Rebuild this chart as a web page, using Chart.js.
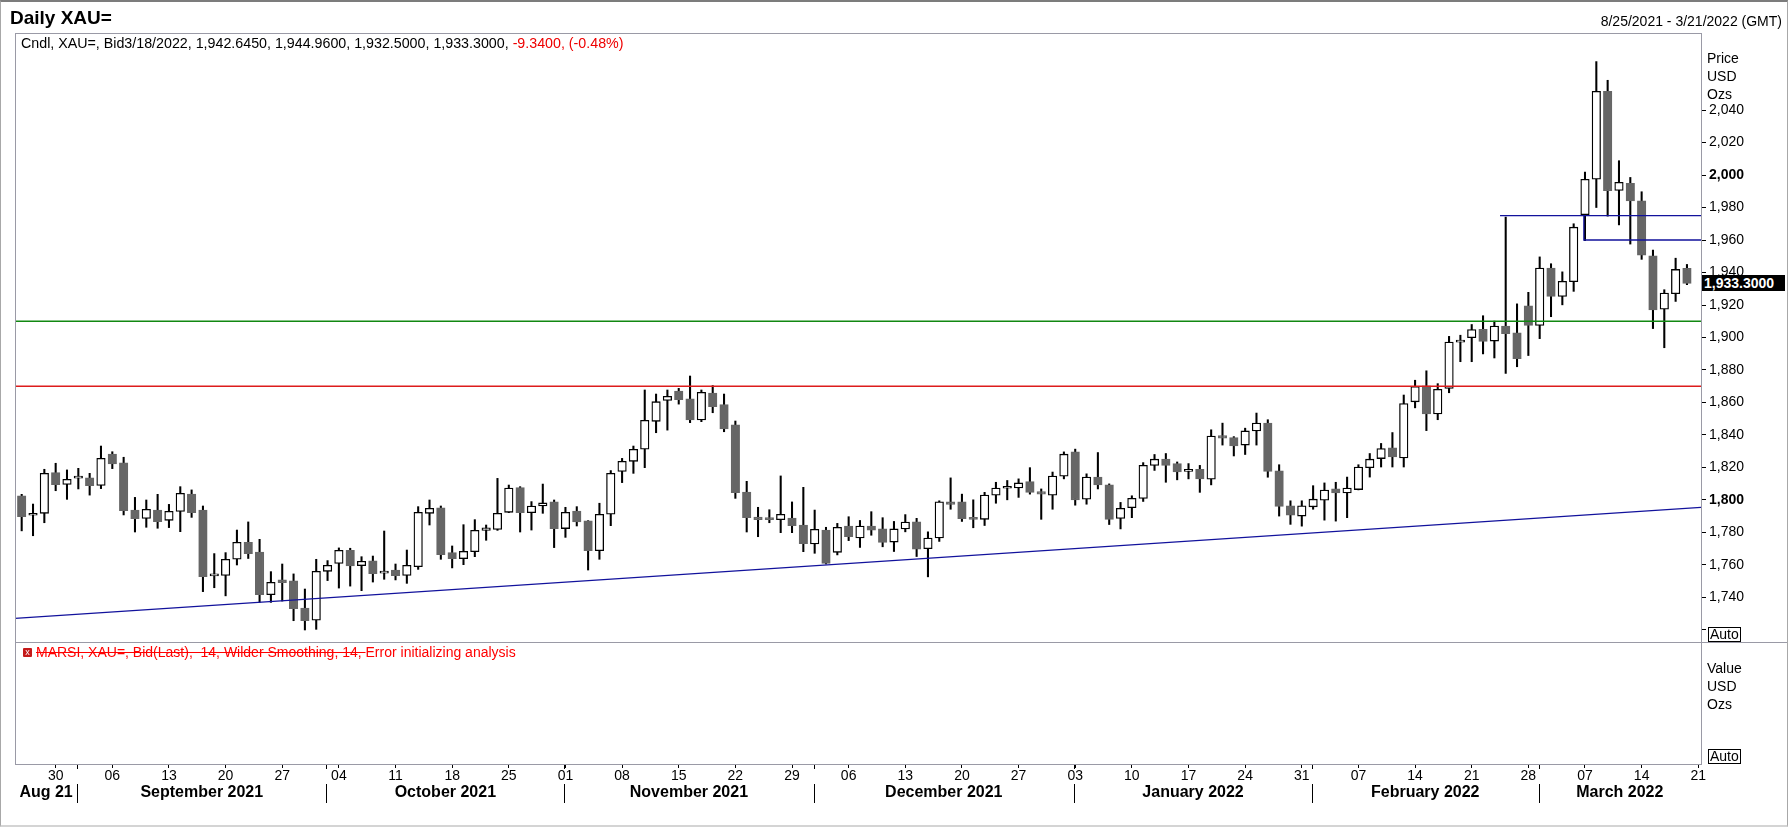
<!DOCTYPE html>
<html lang="en">
<head>
<meta charset="UTF-8">
<title>Daily XAU=</title>
<script src="https://cdn.jsdelivr.net/npm/chart.js"></script>
<style>
  body { margin: 0; background: #fff; font-family: "Liberation Sans", Arial, sans-serif; overflow: hidden; }
  #wrap { position: relative; width: 1788px; height: 827px; }
  canvas { position: absolute; left: 0; top: 0; }
  .t { position: absolute; font-size: 14px; line-height: 16px; white-space: nowrap; color: #000; z-index: 3; }
  .ln { position: absolute; background: #9a9aa6; z-index: 2; }
  .auto { border: 1px solid #000; padding: 0 1px; line-height: 13px; background: #fff; }
</style>
</head>
<body>
<div id="wrap">
  <div style="position:absolute;left:0;top:0;width:1786px;height:823px;border:1px solid #a8a8a8;border-top:2px solid #7c7c7c;border-bottom:2px solid #d4d4d4;"></div>

  <canvas id="priceChart" width="1788" height="827"></canvas>
  <canvas id="lowerChart" width="1788" height="827"></canvas>

  <!-- panel frames -->
  <div class="ln" style="left:15px;top:33px;width:1687px;height:1px;"></div>
  <div class="ln" style="left:15px;top:33px;width:1px;height:732px;"></div>
  <div class="ln" style="left:1701px;top:33px;width:1px;height:732px;"></div>
  <div class="ln" style="left:15px;top:642px;width:1772px;height:1px;"></div>
  <div class="ln" style="left:15px;top:764px;width:1687px;height:1px;"></div>

  <div class="t" style="left:10px;top:6px;font-size:19px;line-height:24px;font-weight:bold;">Daily XAU=</div>
  <div class="t" style="right:6px;top:13px;">8/25/2021 - 3/21/2022 (GMT)</div>
  <div class="t" style="left:21px;top:35px;font-size:14.25px;">Cndl, XAU=, Bid3/18/2022, 1,942.6450, 1,944.9600, 1,932.5000, 1,933.3000, <span style="color:#ee0000">-9.3400, (-0.48%)</span></div>

  <div class="t" style="left:1707px;top:50px;">Price</div>
  <div class="t" style="left:1707px;top:68px;">USD</div>
  <div class="t" style="left:1707px;top:86px;">Ozs</div>
  <div class="t auto" style="left:1708px;top:627px;">Auto</div>

  <div class="t" style="left:1707px;top:660px;">Value</div>
  <div class="t" style="left:1707px;top:678px;">USD</div>
  <div class="t" style="left:1707px;top:696px;">Ozs</div>
  <div class="t auto" style="left:1708px;top:749px;">Auto</div>

  <div class="t" style="left:23px;top:648px;width:9px;height:9px;background:#c41a1a;border-radius:1px;color:#fff;font-size:9px;line-height:9px;text-align:center;">x</div>
  <div class="t" style="left:36px;top:644px;color:#ff0000;"><span style="text-decoration:line-through;">MARSI, XAU=, Bid(Last),&nbsp; 14, Wilder Smoothing, 14, </span>Error initializing analysis</div>

  <div id="lastTag" class="t" style="left:1702px;top:276px;width:81px;height:16px;padding-left:2px;background:#000;color:#fff;font-weight:bold;">1,933.3000</div>
</div>

<script>
// trading days on the time axis (last one is the axis end, no candle)
const days = [
  '2021-08-25','2021-08-26','2021-08-27','2021-08-30','2021-08-31',
  '2021-09-01','2021-09-02','2021-09-03','2021-09-06','2021-09-07','2021-09-08','2021-09-09','2021-09-10','2021-09-13','2021-09-14','2021-09-15','2021-09-16','2021-09-17','2021-09-20','2021-09-21','2021-09-22','2021-09-23','2021-09-24','2021-09-27','2021-09-28','2021-09-29','2021-09-30',
  '2021-10-01','2021-10-04','2021-10-05','2021-10-06','2021-10-07','2021-10-08','2021-10-11','2021-10-12','2021-10-13','2021-10-14','2021-10-15','2021-10-18','2021-10-19','2021-10-20','2021-10-21','2021-10-22','2021-10-25','2021-10-26','2021-10-27','2021-10-28','2021-10-29',
  '2021-11-01','2021-11-02','2021-11-03','2021-11-04','2021-11-05','2021-11-08','2021-11-09','2021-11-10','2021-11-11','2021-11-12','2021-11-15','2021-11-16','2021-11-17','2021-11-18','2021-11-19','2021-11-22','2021-11-23','2021-11-24','2021-11-25','2021-11-26','2021-11-29','2021-11-30',
  '2021-12-01','2021-12-02','2021-12-03','2021-12-06','2021-12-07','2021-12-08','2021-12-09','2021-12-10','2021-12-13','2021-12-14','2021-12-15','2021-12-16','2021-12-17','2021-12-20','2021-12-21','2021-12-22','2021-12-23','2021-12-24','2021-12-27','2021-12-28','2021-12-29','2021-12-30','2021-12-31',
  '2022-01-03','2022-01-04','2022-01-05','2022-01-06','2022-01-07','2022-01-10','2022-01-11','2022-01-12','2022-01-13','2022-01-14','2022-01-17','2022-01-18','2022-01-19','2022-01-20','2022-01-21','2022-01-24','2022-01-25','2022-01-26','2022-01-27','2022-01-28','2022-01-31',
  '2022-02-01','2022-02-02','2022-02-03','2022-02-04','2022-02-07','2022-02-08','2022-02-09','2022-02-10','2022-02-11','2022-02-14','2022-02-15','2022-02-16','2022-02-17','2022-02-18','2022-02-21','2022-02-22','2022-02-23','2022-02-24','2022-02-25','2022-02-28',
  '2022-03-01','2022-03-02','2022-03-03','2022-03-04','2022-03-07','2022-03-08','2022-03-09','2022-03-10','2022-03-11','2022-03-14','2022-03-15','2022-03-16','2022-03-17','2022-03-18','2022-03-21'
];

const open = [
  1802.5,1790.6,1791.8,1816.8,1809.6,1813.5,1813.7,1809.0,1828.3,1822.8,
  1793.8,1788.7,1793.8,1787.5,1793.0,1803.7,1793.8,1753.3,1753.6,1763.5,
  1774.0,1768.0,1741.7,1750.8,1750.2,1733.5,1726.0,1756.1,1761.0,1769.0,
  1759.6,1762.5,1754.9,1756.9,1753.6,1759.0,1791.8,1795.1,1767.6,1763.9,
  1768.2,1781.3,1781.9,1792.4,1807.6,1792.2,1796.3,1798.8,1782.4,1793.2,
  1787.1,1768.8,1791.2,1817.6,1823.8,1831.2,1848.4,1861.3,1867.1,1862.2,
  1849.2,1865.8,1858.7,1846.2,1804.9,1789.5,1788.9,1787.9,1788.9,1784.6,
  1772.9,1781.5,1767.8,1784.0,1776.6,1783.9,1782.2,1774.1,1782.2,1786.6,
  1770.0,1776.6,1798.9,1798.9,1789.1,1788.1,1803.0,1807.2,1807.4,1811.3,
  1805.1,1803.0,1814.7,1829.6,1800.5,1814.1,1809.3,1788.7,1795.3,1801.0,
  1821.3,1825.1,1822.4,1817.6,1818.8,1812.8,1839.6,1838.4,1833.8,1842.5,
  1847.3,1818.0,1796.4,1790.1,1795.8,1799.9,1806.8,1804.3,1806.4,1819.9,
  1825.5,1832.1,1825.9,1860.4,1870.2,1852.9,1868.7,1897.2,1899.9,1905.1,
  1897.8,1907.0,1902.8,1919.5,1907.4,1942.7,1925.3,1934.4,1975.6,1997.4,
  2051.5,1990.5,1994.9,1984.1,1950.2,1917.4,1926.9,1942.645
];
const high = [
  1803.5,1797.5,1818.9,1822.6,1818.5,1819.5,1816.4,1833.2,1829.7,1826.3,
  1801.6,1800.0,1803.5,1797.3,1808.2,1806.2,1796.3,1767.0,1767.6,1781.5,
  1786.5,1775.8,1755.9,1760.6,1754.5,1745.2,1763.5,1762.7,1770.5,1770.3,
  1765.1,1765.5,1780.9,1760.6,1769.2,1795.9,1800.0,1796.3,1771.7,1784.8,
  1787.9,1784.6,1813.3,1809.2,1808.2,1799.0,1809.8,1800.0,1795.5,1795.9,
  1787.3,1798.0,1818.1,1825.6,1833.2,1867.7,1865.2,1867.7,1868.7,1876.3,
  1867.7,1870.4,1865.2,1848.6,1811.5,1795.5,1794.0,1814.8,1798.8,1807.8,
  1793.8,1783.2,1785.6,1789.7,1787.4,1792.8,1789.1,1786.8,1791.0,1788.7,
  1780.4,1799.5,1813.6,1803.6,1800.1,1804.7,1810.9,1812.0,1813.0,1819.9,
  1806.8,1817.2,1829.6,1831.3,1816.1,1829.2,1809.9,1798.5,1802.6,1823.0,
  1828.0,1828.6,1823.4,1822.4,1821.3,1843.2,1847.3,1839.0,1844.2,1853.5,
  1849.4,1821.7,1799.5,1799.5,1808.8,1810.5,1810.9,1814.1,1821.7,1828.6,
  1834.8,1841.5,1864.6,1873.7,1879.5,1871.6,1900.7,1901.4,1908.0,1913.4,
  1910.1,1974.1,1920.7,1927.8,1949.6,1945.4,1940.4,1970.0,2001.8,2069.8,
  2058.3,2008.8,1998.5,1989.7,1953.8,1929.4,1948.8,1944.96
];
const low = [
  1781.0,1778.0,1786.0,1805.7,1800.4,1806.8,1803.0,1807.0,1819.3,1790.8,
  1780.3,1783.2,1782.6,1783.0,1780.5,1789.3,1743.6,1746.0,1741.0,1760.0,
  1764.0,1737.0,1737.0,1737.8,1725.7,1720.0,1720.4,1750.4,1745.8,1747.0,
  1744.2,1749.5,1751.2,1750.8,1748.7,1757.3,1784.6,1763.5,1758.2,1760.2,
  1765.1,1775.2,1781.3,1792.2,1780.3,1781.5,1791.8,1770.7,1777.0,1784.0,
  1756.9,1763.5,1784.2,1810.7,1816.4,1819.9,1841.4,1843.0,1859.0,1847.6,
  1848.2,1853.7,1842.0,1801.0,1780.3,1777.4,1786.0,1779.9,1779.9,1768.2,
  1767.2,1760.6,1766.2,1775.0,1770.8,1778.3,1771.2,1768.3,1780.4,1765.2,
  1752.7,1774.5,1794.3,1786.8,1782.9,1784.3,1798.0,1800.1,1801.6,1803.6,
  1788.1,1794.3,1813.0,1796.8,1797.4,1806.8,1784.9,1782.2,1789.1,1799.1,
  1818.2,1810.9,1812.4,1813.0,1804.7,1809.3,1833.8,1827.1,1828.0,1833.8,
  1814.0,1790.1,1785.0,1783.9,1794.3,1787.6,1787.0,1789.1,1806.2,1814.1,
  1820.3,1820.3,1820.3,1856.7,1842.7,1849.4,1866.0,1885.1,1885.1,1889.9,
  1887.4,1877.9,1882.0,1888.9,1899.3,1912.8,1920.1,1928.4,1959.6,1980.0,
  1974.7,1969.3,1957.5,1948.1,1905.5,1893.7,1922.2,1932.5
];
const close = [
  1789.7,1791.8,1816.4,1809.4,1812.7,1814.2,1808.8,1825.6,1822.2,1793.4,
  1788.5,1794.3,1786.7,1793.0,1804.1,1792.2,1752.8,1754.1,1763.5,1774.0,
  1767.0,1741.7,1749.3,1749.1,1733.1,1725.7,1756.1,1759.8,1769.0,1759.4,
  1762.3,1754.7,1756.3,1753.4,1759.8,1792.4,1794.9,1766.4,1763.9,1768.4,
  1781.3,1782.8,1791.8,1807.4,1792.2,1796.3,1798.2,1782.4,1792.4,1786.5,
  1768.8,1791.2,1816.4,1823.8,1831.2,1849.0,1860.5,1863.8,1861.7,1849.2,
  1866.3,1857.4,1843.7,1804.5,1789.1,1787.9,1787.9,1791.2,1784.2,1773.1,
  1781.9,1761.0,1783.2,1777.4,1783.9,1781.4,1773.9,1782.2,1786.4,1769.7,
  1776.6,1798.9,1797.2,1788.5,1788.1,1803.0,1807.4,1807.9,1810.5,1804.7,
  1803.6,1814.7,1828.2,1800.1,1814.1,1809.3,1788.1,1794.9,1801.0,1821.3,
  1825.1,1821.3,1817.2,1818.3,1813.0,1839.4,1838.0,1833.2,1842.5,1847.3,
  1817.6,1796.0,1790.6,1796.4,1800.5,1806.1,1804.3,1807.4,1820.3,1825.1,
  1831.7,1826.5,1859.4,1869.9,1852.9,1868.1,1897.2,1897.6,1904.9,1897.6,
  1907.0,1902.4,1887.0,1907.4,1942.7,1925.3,1934.6,1967.9,1997.4,2051.5,
  1990.3,1995.5,1984.1,1950.6,1917.0,1927.3,1941.9,1933.3
];

// drawn lines (price levels and trend), x in trading-day index
const greenLevel = 1910;
const redLevel = 1870;
const trendX = [-0.59, 148.24];
const trendY = [1727.2, 1795.5];
const blueTopX = [130.5, 148.24];
const blueTopY = [1975, 1975];
const blueStepX = [137.9, 137.9, 148.24];
const blueStepY = [1975, 1960, 1960];

// axes
const xMin = -0.59, xMax = 148.24;
const yMin = 1712.6, yMax = 2087.4;
const priceTicks = [1720,1740,1760,1780,1800,1820,1840,1860,1880,1900,1920,1940,1960,1980,2000,2020,2040];
const boldTicks = [1800, 2000];
const months = ['Aug 21','September 2021','October 2021','November 2021','December 2021','January 2022','February 2022','March 2022'];

const FONT = '"Liberation Sans", Arial, sans-serif';
Chart.defaults.font.family = FONT;
Chart.defaults.color = '#000';

// derived positions on the day axis
const mondays = [];
const monthStarts = [];
days.forEach((d, i) => {
  if (new Date(d + 'T00:00:00Z').getUTCDay() === 1) mondays.push(i);
  if (i > 0 && d.slice(5, 7) !== days[i - 1].slice(5, 7)) monthStarts.push(i);
});
const bounds = [xMin].concat(monthStarts.map(i => i - 0.1), [xMax]);
const monthCenters = months.map((m, k) => (bounds[k] + bounds[k + 1]) / 2);

const candles = open.map((o, i) => ({ x: i, o: o, h: high[i], l: low[i], c: close[i] }));
const up = candles.map(k => k.c >= k.o);

const pts = (xs, ys) => xs.map((x, i) => ({ x: x, y: ys[i] }));

const priceChart = new Chart(document.getElementById('priceChart'), {
  type: 'bar',
  data: {
    datasets: [
      { type: 'line', data: pts([xMin, xMax], [greenLevel, greenLevel]), borderColor: '#118811', borderWidth: 1.3, pointRadius: 0, order: 0 },
      { type: 'line', data: pts([xMin, xMax], [redLevel, redLevel]), borderColor: '#dd1c1c', borderWidth: 1.3, pointRadius: 0, order: 0 },
      { type: 'line', data: pts(trendX, trendY), borderColor: '#12129c', borderWidth: 1.3, pointRadius: 0, order: 0 },
      { type: 'line', data: pts(blueTopX, blueTopY), borderColor: '#12129c', borderWidth: 1.3, pointRadius: 0, order: 0 },
      { type: 'line', data: pts(blueStepX, blueStepY), borderColor: '#12129c', borderWidth: 1.3, pointRadius: 0, order: 0 },
      {
        label: 'body',
        data: candles.map(k => ({ x: k.x, y: [k.o, k.c] })),
        backgroundColor: up.map(u => (u ? '#ffffff' : '#666666')),
        borderColor: up.map(u => (u ? '#000000' : '#666666')),
        borderWidth: 1.3,
        borderSkipped: false,
        barThickness: 8.5,
        minBarLength: 2,
        grouped: false,
        order: 1
      },
      {
        label: 'wick',
        data: candles.map(k => ({ x: k.x, y: [k.l, k.h] })),
        backgroundColor: '#000000',
        barThickness: 1.4,
        grouped: false,
        order: 2
      }
    ]
  },
  options: {
    responsive: false,
    animation: false,
    layout: { padding: { left: 15, top: 33, right: 0, bottom: 185 } },
    plugins: { legend: { display: false }, tooltip: { enabled: false } },
    scales: {
      x: { type: 'linear', min: xMin, max: xMax, bounds: 'data', offset: false, grid: { offset: false }, display: false },
      y: {
        position: 'right',
        min: yMin,
        max: yMax,
        bounds: 'data',
        afterBuildTicks: s => { s.ticks = priceTicks.map(v => ({ value: v })); },
        afterFit: s => { s.width = 87; },
        grid: { drawOnChartArea: false, drawTicks: true, tickLength: 5, tickColor: '#000' },
        border: { display: false },
        ticks: {
          padding: 3,
          color: '#000',
          font: c => ({ family: FONT, size: 14, weight: (c.tick && boldTicks.includes(c.tick.value)) ? 'bold' : 'normal' }),
          callback: v => (v === priceTicks[0] ? '' : v.toLocaleString('en-US'))
        }
      }
    }
  }
});

// last price tag on the axis
const lastY = priceChart.scales.y.getPixelForValue(close[close.length - 1]);
document.getElementById('lastTag').style.top = Math.round(lastY - 8) + 'px';

// month boundaries: short tick at the axis, long line beside the month names
const monthSeparators = {
  id: 'monthSeparators',
  afterDraw(chart) {
    const s = chart.scales.x, m = chart.scales.xm, ctx = chart.ctx;
    ctx.save();
    ctx.strokeStyle = '#000';
    ctx.lineWidth = 1;
    monthStarts.forEach(i => {
      const px = Math.round(s.getPixelForValue(i - 0.1)) + 0.5;
      ctx.beginPath();
      ctx.moveTo(px, s.top);
      ctx.lineTo(px, s.top + 5);
      ctx.moveTo(px, m.top + 1);
      ctx.lineTo(px, m.top + 20);
      ctx.stroke();
    });
    ctx.restore();
  }
};

// lower (indicator) panel with the date axis
new Chart(document.getElementById('lowerChart'), {
  type: 'line',
  data: { datasets: [{ label: 'MARSI', data: [], borderColor: '#d00' }] },
  options: {
    responsive: false,
    animation: false,
    layout: { padding: { left: 15, top: 642, right: 87, bottom: 0 } },
    plugins: { legend: { display: false }, tooltip: { enabled: false } },
    scales: {
      x: {
        type: 'linear', min: xMin, max: xMax, bounds: 'data', offset: false, position: 'bottom',
        afterBuildTicks: s => { s.ticks = mondays.map(v => ({ value: v })); },
        afterFit: s => { s.height = 19; },
        grid: { drawOnChartArea: false, drawTicks: true, tickLength: 4, tickColor: '#000' },
        border: { display: false },
        ticks: {
          padding: 0, autoSkip: false, maxRotation: 0, color: '#000',
          font: { family: FONT, size: 14 },
          callback: v => days[v].slice(8, 10)
        }
      },
      xm: {
        type: 'linear', min: xMin, max: xMax, bounds: 'data', offset: false, position: 'bottom', weight: 1,
        afterBuildTicks: s => { s.ticks = monthCenters.map(v => ({ value: v })); },
        afterFit: s => { s.height = 44; },
        grid: { display: false, drawTicks: false },
        border: { display: false },
        ticks: {
          padding: 0, autoSkip: false, maxRotation: 0, color: '#000',
          font: { family: FONT, size: 16, weight: 'bold' },
          callback: (v, i) => months[i]
        }
      },
      y: { display: false, min: 0, max: 100 }
    }
  },
  plugins: [monthSeparators]
});
</script>
</body>
</html>
